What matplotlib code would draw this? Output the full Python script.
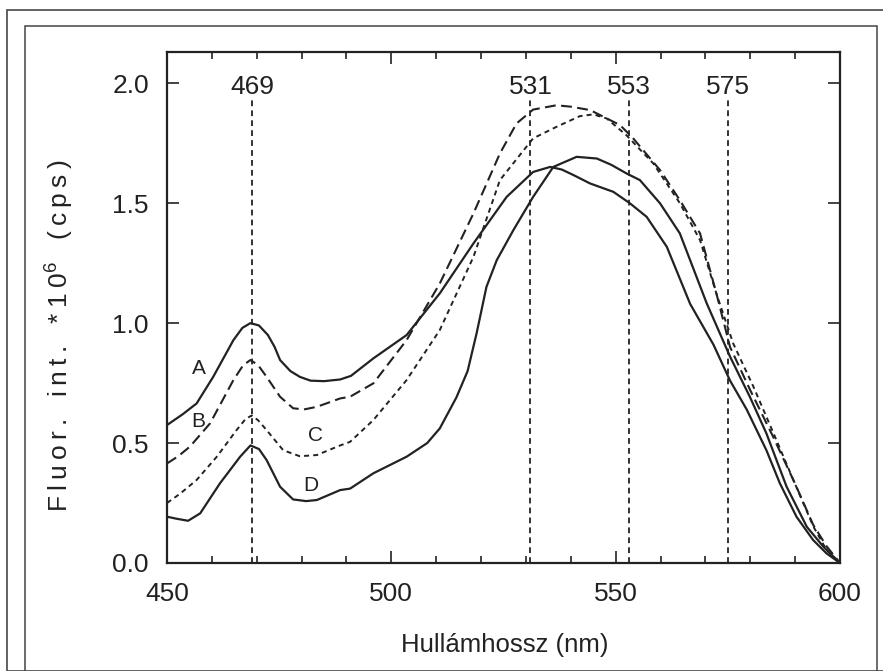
import matplotlib.pyplot as plt
from matplotlib.patches import Rectangle

plt.rcParams['font.family'] = ['Liberation Sans', 'DejaVu Sans']
plt.rcParams['mathtext.fontset'] = 'custom'
plt.rcParams['mathtext.rm'] = 'Liberation Sans'

# curves (nm, fluorescence * 1e6 cps)
a_nm = [450, 453.5, 456.6, 460.3, 464.8, 466.8, 468.6, 470.5, 472.5, 474, 475.2, 477.5, 479.6, 482, 485,
        488.6, 491, 496, 503.4, 510.8, 518.3, 525.7, 531.6, 535.4, 538, 540.6, 544.3, 549.5, 553.2,
        556.9, 561.4, 566.6, 571.8, 575.5, 579.2, 583.6, 586.6, 590.3, 594, 597, 600]
a_val = [0.575, 0.62, 0.665, 0.776, 0.929, 0.98, 1.0, 0.99, 0.95, 0.90, 0.846, 0.80, 0.776, 0.76, 0.758,
         0.765, 0.78, 0.853, 0.95, 1.124, 1.332, 1.526, 1.63, 1.651, 1.64, 1.617, 1.582, 1.547, 1.499,
         1.443, 1.318, 1.08, 0.91, 0.76, 0.64, 0.47, 0.332, 0.193, 0.096, 0.04, 0.0]

b_nm = [450, 452.5, 455.1, 459.6, 464.8, 467, 468.6, 470.3, 472.2, 475.2, 478.1, 480.5, 483.4, 488.6, 490.8,
        496, 503.4, 510.8, 518.3, 524.2, 527.9, 531.6, 536.8, 540, 544.3, 551, 553.9, 559.9, 564.3, 568.8,
        572.5, 575.5, 580, 585, 590, 594, 597, 600]
b_val = [0.415, 0.445, 0.485, 0.582, 0.7625, 0.825, 0.846, 0.825, 0.776, 0.693, 0.645, 0.64, 0.651, 0.686,
         0.693, 0.749, 0.929, 1.165, 1.457, 1.707, 1.832, 1.89, 1.908, 1.902, 1.888, 1.825, 1.77, 1.6375,
         1.5125, 1.374, 1.12, 0.90, 0.72, 0.53, 0.33, 0.16, 0.07, 0.0]

c_nm = [450, 453, 456.6, 461.1, 465.5, 467.5, 468.9, 470.3, 472.2, 475.9, 479.6, 483.4, 488.6, 490.8, 496,
        503.4, 510.8, 518.3, 524.2, 531.6, 536.8, 542, 545, 548, 552.4, 558.4, 564.3, 568.8, 572.5, 576.2,
        580.7, 585.2, 589.6, 594.1, 597, 600]
c_val = [0.25, 0.29, 0.346, 0.443, 0.554, 0.60, 0.615, 0.595, 0.554, 0.47, 0.445, 0.45, 0.49, 0.505, 0.596,
         0.7625, 0.971, 1.276, 1.596, 1.77, 1.818, 1.8625, 1.87, 1.853, 1.783, 1.665, 1.5, 1.346, 1.12, 0.915,
         0.735, 0.54, 0.346, 0.151, 0.054, 0.0]

d_nm = [450, 452, 454.7, 457.4, 461.8, 466.3, 468.6, 470.5, 472.2, 475.2, 478.1, 481, 483.4, 488.6,
        490.8, 496, 503.4, 508, 510.8, 514.5, 517, 519, 521.2, 523.5, 527.2, 531.6, 536.1, 541.3,
        545.8, 549, 552.4, 555.4, 559.9, 564.3, 570.3, 575.5, 579.9, 583.6, 588.1, 592.6, 596.3, 600]
d_val = [0.193, 0.185, 0.176, 0.207, 0.332, 0.443, 0.49, 0.475, 0.429, 0.318, 0.265, 0.258, 0.2625, 0.304,
         0.31, 0.374, 0.443, 0.50, 0.561, 0.69, 0.80, 0.957, 1.151, 1.2625, 1.3875, 1.526, 1.651, 1.693,
         1.686, 1.66, 1.624, 1.596, 1.499, 1.374, 1.082, 0.86, 0.693, 0.54, 0.318, 0.151, 0.068, 0.0]

peaks = [469, 531, 553, 575]
curve_labels = ['A', 'B', 'C', 'D']
label_nm = [457, 457, 483, 482]
label_val = [0.81, 0.59, 0.53, 0.325]

ink = '#222222'

fig = plt.figure(figsize=(8.83, 6.71), dpi=100)
ax = fig.add_axes([167 / 883, 1 - 563 / 671, 673 / 883, 511 / 671])

# double frame around the figure
fig.patches.append(Rectangle((7 / 883, 0), 2, 1 - 10 / 671, transform=fig.transFigure,
                             fill=False, ec='#555555', lw=1.3, clip_on=False))
fig.patches.append(Rectangle((25 / 883, -0.1), (877 - 25) / 883, 1.1 - 26 / 671, transform=fig.transFigure,
                             fill=False, ec='#444444', lw=1.1, clip_on=False))

ax.plot(a_nm, a_val, color=ink, lw=1.6)
ax.plot(b_nm, b_val, color=ink, lw=1.5, dashes=(5.2, 2.6))
ax.plot(c_nm, c_val, color=ink, lw=1.4, dashes=(2.6, 2.1))
ax.plot(d_nm, d_val, color=ink, lw=1.6)

for p in peaks:
    ax.plot([p, p], [0, 1.93], color=ink, lw=1.3, dashes=(3.2, 2.3))
    ax.text(p, 1.985, str(p), ha='center', va='center', fontsize=19, color=ink)

for lab, x, y in zip(curve_labels, label_nm, label_val):
    ax.text(x, y, lab, ha='center', va='center', fontsize=15, color=ink)

ax.set_xlim(450, 600)
ax.set_ylim(0, 2.13)
ax.set_xticks([450, 500, 550, 600])
ax.set_xticks(range(460, 600, 10), minor=True)
ax.set_yticks([0.0, 0.5, 1.0, 1.5, 2.0])
ax.set_yticklabels(['0.0', '0.5', '1.0', '1.5', '2.0'])
ax.tick_params(which='both', direction='in', top=True, right=True, width=1.2, color=ink,
               labelsize=19, labelcolor=ink)
ax.tick_params(which='major', length=8.5)
ax.tick_params(which='minor', length=5)
ax.tick_params(axis='x', pad=14)
ax.tick_params(axis='y', pad=13)
for s in ax.spines.values():
    s.set_linewidth(1.6)
    s.set_color(ink)

fig.text(505 / 883, 1 - 645 / 671, 'Hullámhossz (nm)', ha='center', va='center', fontsize=18.5, color=ink)
ts = '\u2009'
ylab = ts.join('Fluor.') + '   ' + ts.join('int.') + '   ' + ts.join('*10') + '$^6$' + '   ' + ts.join('(cps)')
fig.text(59 / 883, 1 - 336 / 671, ylab, rotation=90, ha='center', va='center', fontsize=19, color=ink)

fig.savefig('out.png', dpi=100)
